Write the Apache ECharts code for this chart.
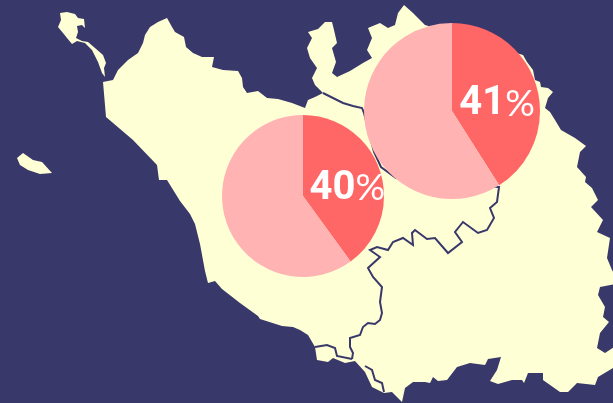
<!DOCTYPE html>
<html>
<head>
<meta charset="utf-8">
<style>html,body{margin:0;padding:0;background:#38386b}#chart{width:613px;height:403px}</style>
<script src="https://cdn.jsdelivr.net/npm/echarts@6/dist/echarts.min.js"></script>
</head>
<body>
<div id="chart"></div>
<script>
var mainland = [[103,82],[113,80],[118,70],[128,60],[138,53],[143,43],[145,35],[150,27],[158,22],[167,18],[172,27],[175,32],[184,37],[186,47],[193,53],[202,57],[214,57],[212,67],[223,70],[238,71],[242,78],[243,87],[247,93],[258,91],[267,98],[278,99],[292,103],[305,108],[308,100],[315,97],[323,93],[315,85],[312,78],[317,68],[310,58],[307,48],[312,38],[308,32],[318,29],[325,22],[332,22],[334,30],[337,43],[332,48],[336,62],[332,73],[337,77],[350,71],[363,63],[372,58],[367,50],[372,38],[368,28],[380,23],[388,28],[395,25],[398,13],[404,5],[413,13],[425,25],[523,55],[527,62],[533,70],[535,80],[540,82],[541,87],[548,88],[553,92],[548,98],[545,108],[550,112],[555,120],[561,130],[575,138],[586,146],[580,152],[577,167],[586,177],[585,182],[592,188],[598,200],[591,207],[603,220],[597,232],[610,238],[607,258],[612,270],[620,283],[600,287],[598,295],[605,307],[603,317],[609,322],[600,333],[597,348],[605,353],[620,343],[620,366],[613,368],[598,377],[595,385],[577,383],[568,392],[560,392],[543,380],[543,373],[528,373],[524,383],[522,380],[512,380],[498,384],[490,381],[497,370],[501,357],[488,359],[485,365],[470,363],[457,367],[447,380],[438,381],[433,377],[430,383],[425,382],[413,382],[405,388],[402,402],[392,392],[384,393],[372,387],[365,372],[355,361],[345,363],[333,358],[328,362],[317,360],[315,347],[308,335],[300,330],[293,327],[282,326],[260,319],[258,316],[240,303],[222,289],[215,281],[208,283],[205,271],[200,244],[195,224],[190,214],[180,201],[167,180],[159,180],[157,165],[133,140],[106,117]];
var promontory = [[60,13],[67,12],[75,14],[78,18],[84,19],[85,28],[82,25],[77,26],[78,32],[76,38],[82,41],[88,42],[95,48],[103,55],[106,63],[104,68],[105,77],[102,73],[98,62],[92,50],[85,43],[77,41],[72,44],[67,38],[63,33],[58,27],[61,20]];
var island = [[17,158],[23,153],[33,160],[42,162],[52,173],[40,174],[28,170],[20,165]];
var borderNorth = [[323,93],[333,98],[343,103],[353,106],[362,108],[364,113],[374,152],[381,167],[396,178],[498,187],[499,187],[497,202],[490,208],[494,218],[487,230],[478,233],[463,222],[455,232],[462,242],[448,253],[435,238],[427,239],[415,230],[412,233],[413,245],[403,238],[393,242],[388,250],[377,247],[370,250],[380,257],[368,268],[373,277],[382,287],[380,302],[382,313],[380,320],[375,324],[368,323],[363,327],[360,335],[350,338],[350,347],[353,353],[352,359]];
var borderEnclave = [[315,347],[327,345],[335,348],[337,356],[352,359]];
var lagoon = [[365,366],[372,370],[375,380],[382,383],[384,392]];
var pieCenters = [[303,196],[452,111]];
var shares = [40,41];

function toMap(pt) { return [pt[0], 403 - pt[1]]; }
function ring(list) {
  var out = list.map(toMap);
  out.push(out[0]);
  return [out];
}

echarts.registerMap('area', {
  type: 'FeatureCollection',
  features: [
    { type: 'Feature', properties: { name: 'mainland' }, geometry: { type: 'Polygon', coordinates: ring(mainland) } },
    { type: 'Feature', properties: { name: 'promontory' }, geometry: { type: 'Polygon', coordinates: ring(promontory) } },
    { type: 'Feature', properties: { name: 'island' }, geometry: { type: 'Polygon', coordinates: ring(island) } }
  ]
});

var chart = echarts.init(document.getElementById('chart'));

function pieSeries(i, radius, offset) {
  return {
    type: 'pie',
    coordinateSystem: 'geo',
    center: toMap(pieCenters[i]),
    radius: radius,
    startAngle: 90,
    silent: true,
    z: 5,
    label: {
      show: true,
      position: 'inside',
      formatter: '{d|{c}}{p|%}',
      offset: offset,
      rich: {
        d: { color: '#fff', fontFamily: 'Roboto', fontWeight: 'bold', fontSize: 40 },
        p: { color: '#fff', fontFamily: 'Lato', fontWeight: 'normal', fontSize: 37 }
      }
    },
    labelLine: { show: false },
    data: [
      { value: shares[i], itemStyle: { color: '#ff6666' } },
      { value: 100 - shares[i], itemStyle: { color: '#ffb3b3' }, label: { show: false } }
    ]
  };
}

chart.setOption({
  animation: false,
  backgroundColor: '#38386b',
  geo: {
    map: 'area',
    left: 0,
    top: 0,
    width: 613,
    height: 403,
    aspectScale: 1,
    boundingCoords: [[0, 403], [613, 0]],
    silent: true,
    label: { show: false },
    itemStyle: { areaColor: '#ffffd6', borderWidth: 0 }
  },
  series: [
    {
      type: 'lines',
      coordinateSystem: 'geo',
      polyline: true,
      silent: true,
      z: 3,
      lineStyle: { color: '#38386b', width: 2, opacity: 1 },
      data: [
        { coords: borderNorth.map(toMap) },
        { coords: borderEnclave.map(toMap) },
        { coords: lagoon.map(toMap) }
      ]
    },
    pieSeries(0, 81, [3, 6]),
    pieSeries(1, 88, [0, 6])
  ]
});
</script>
</body>
</html>
